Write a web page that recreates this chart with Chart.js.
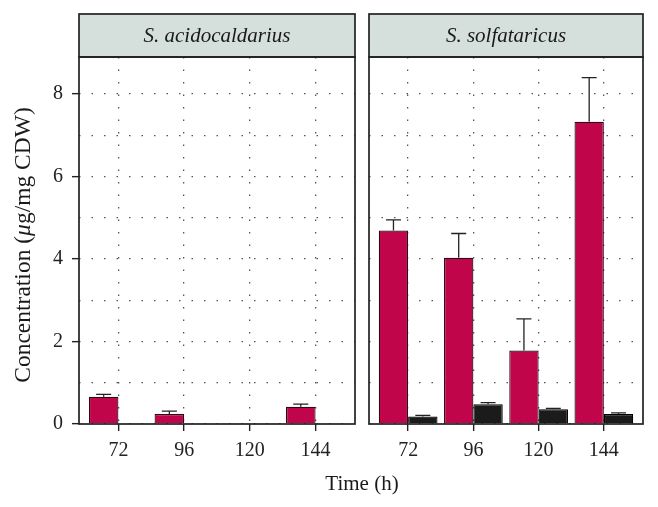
<!DOCTYPE html>
<html>
<head>
<meta charset="utf-8">
<script src="https://cdn.jsdelivr.net/npm/chart.js@4/dist/chart.umd.min.js"></script>
<style>
  html, body { margin: 0; padding: 0; background: #fff; }
  #wrap { position: relative; width: 658px; height: 507px; }
  #wrap canvas { position: absolute; left: 0; top: 0; }
</style>
</head>
<body>
<div id="wrap">
  <canvas id="leftChart" width="658" height="507"></canvas>
  <canvas id="rightChart" width="658" height="507"></canvas>
</div>
<script>
// data
const timeLabels = ['72', '96', '120', '144'];
const panelNames = ['S. acidocaldarius', 'S. solfataricus'];

const acidoRed = [0.66, 0.24, 0.01, 0.42];
const acidoRedErr = [0.06, 0.07, 0, 0.06];
const acidoBlack = [0.01, 0.01, 0.01, 0.01];
const acidoBlackErr = [0, 0, 0, 0];

const solfRed = [4.69, 4.03, 1.78, 7.33];
const solfRedErr = [0.26, 0.59, 0.77, 1.07];
const solfBlack = [0.18, 0.48, 0.36, 0.24];
const solfBlackErr = [0.03, 0.04, 0.02, 0.03];

const yMax = 8.9;

Chart.defaults.font.family = '"Liberation Serif", "Times New Roman", serif';
Chart.defaults.color = '#222';

const RED = '#c1054b';
const BLACK = '#1b1b1b';
const SERIF = '"Liberation Serif", "Times New Roman", serif';

// panel frame + strip header
const stripPlugin = {
    id: 'strip',
    afterDraw(chart, args, opts) {
        const ctx = chart.ctx;
        const a = chart.chartArea;
        ctx.save();
        ctx.fillStyle = '#d5dfdb';
        ctx.fillRect(a.left, a.top - 43, a.right - a.left, 43);
        ctx.strokeStyle = '#222';
        ctx.lineWidth = 1.7;
        ctx.strokeRect(a.left, a.top - 43, a.right - a.left, 43);
        ctx.strokeRect(a.left, a.top, a.right - a.left, a.bottom - a.top);
        ctx.fillStyle = '#1a1a1a';
        ctx.font = 'italic 21px ' + SERIF;
        ctx.textAlign = 'center';
        ctx.textBaseline = 'middle';
        ctx.fillText(opts.text, (a.left + a.right) / 2, a.top - 21);
        ctx.restore();
    }
};

// upper error whiskers
const errorBarPlugin = {
    id: 'errbars',
    afterDatasetsDraw(chart) {
        const ctx = chart.ctx;
        const xs = chart.scales.x, ys = chart.scales.y;
        const half = (xs.getPixelForValue(0.115) - xs.getPixelForValue(0));
        ctx.save();
        ctx.strokeStyle = '#222';
        ctx.lineWidth = 1.3;
        chart.data.datasets.forEach((ds, i) => {
            const meta = chart.getDatasetMeta(i);
            meta.data.forEach((bar, j) => {
                const e = ds.err[j];
                if (!e) return;
                const yTop = ys.getPixelForValue(ds.data[j].y + e);
                ctx.beginPath();
                ctx.moveTo(bar.x, bar.y);
                ctx.lineTo(bar.x, yTop);
                ctx.moveTo(bar.x - half, yTop);
                ctx.lineTo(bar.x + half, yTop);
                ctx.stroke();
            });
        });
        ctx.restore();
    }
};

// axis titles for the whole figure
const titlesPlugin = {
    id: 'titles',
    afterDraw(chart) {
        const ctx = chart.ctx;
        ctx.save();
        ctx.fillStyle = '#1a1a1a';
        ctx.textBaseline = 'middle';
        ctx.textAlign = 'center';
        ctx.font = '21px ' + SERIF;
        ctx.fillText('Time (h)', 362, 484);

        // y title with italic mu
        const parts = [
            ['Concentration (', '23.5px ' + SERIF],
            ['\u03bc', 'italic 23.5px ' + SERIF],
            ['g/mg CDW)', '23.5px ' + SERIF]
        ];
        let total = 0;
        parts.forEach(p => { ctx.font = p[1]; total += ctx.measureText(p[0]).width; });
        ctx.translate(24, 245);
        ctx.rotate(-Math.PI / 2);
        ctx.textAlign = 'left';
        let x = -total / 2;
        parts.forEach(p => { ctx.font = p[1]; ctx.fillText(p[0], x, 0); x += ctx.measureText(p[0]).width; });
        ctx.restore();
    }
};

function makeData(red, redErr, black, blackErr) {
    return {
        datasets: [{
            data: red.map((v, i) => ({ x: i, y: v })),
            err: redErr,
            backgroundColor: RED,
            borderColor: '#2a0a14',
            borderWidth: 1.2,
            categoryPercentage: 0.9,
            barPercentage: 1
        }, {
            data: black.map((v, i) => ({ x: i, y: v })),
            err: blackErr,
            backgroundColor: BLACK,
            borderColor: '#000',
            borderWidth: 1.2,
            categoryPercentage: 0.9,
            barPercentage: 1
        }]
    };
}

function makeOptions(isLeft) {
    return {
        responsive: false,
        animation: false,
        layout: {
            padding: isLeft ? { left: 0, right: 303, top: 57, bottom: 0 }
                            : { left: 369, right: 15, top: 57, bottom: 0 }
        },
        plugins: {
            legend: { display: false },
            tooltip: { enabled: false },
            strip: { text: isLeft ? panelNames[0] : panelNames[1] }
        },
        scales: {
            x: {
                type: 'linear',
                min: -0.6,
                max: 3.6,
                offset: false,
                afterBuildTicks: s => { s.ticks = timeLabels.map((_, i) => ({ value: i })); },
                afterFit: s => { s.height = 83; },
                ticks: {
                    callback: v => timeLabels[v],
                    font: { size: 20 },
                    color: '#222',
                    padding: 8,
                    maxRotation: 0
                },
                grid: {
                    offset: false,
                    color: '#555',
                    lineWidth: 1.3,
                    tickLength: 7,
                    tickColor: '#222',
                    tickWidth: 1.4,
                    tickBorderDash: []
                },
                border: { display: false, dash: [1.5, 11] }
            },
            y: {
                min: 0,
                max: yMax,
                afterFit: s => { s.width = isLeft ? 79 : 0; },
                ticks: {
                    display: isLeft,
                    stepSize: 1,
                    includeBounds: false,
                    callback: v => (v % 2 === 0 ? v : ''),
                    font: { size: 20 },
                    color: '#222',
                    padding: 9
                },
                grid: {
                    color: '#555',
                    lineWidth: 1.3,
                    drawTicks: isLeft,
                    tickLength: 7,
                    tickColor: c => (c.tick && c.tick.value % 2 === 0 ? '#222' : 'rgba(0,0,0,0)'),
                    tickWidth: 1.4,
                    tickBorderDash: []
                },
                border: { display: false, dash: [1.5, 11] }
            }
        }
    };
}

new Chart(document.getElementById('leftChart').getContext('2d'), {
    type: 'bar',
    data: makeData(acidoRed, acidoRedErr, acidoBlack, acidoBlackErr),
    options: makeOptions(true),
    plugins: [stripPlugin, errorBarPlugin, titlesPlugin]
});

new Chart(document.getElementById('rightChart').getContext('2d'), {
    type: 'bar',
    data: makeData(solfRed, solfRedErr, solfBlack, solfBlackErr),
    options: makeOptions(false),
    plugins: [stripPlugin, errorBarPlugin]
});
</script>
</body>
</html>
